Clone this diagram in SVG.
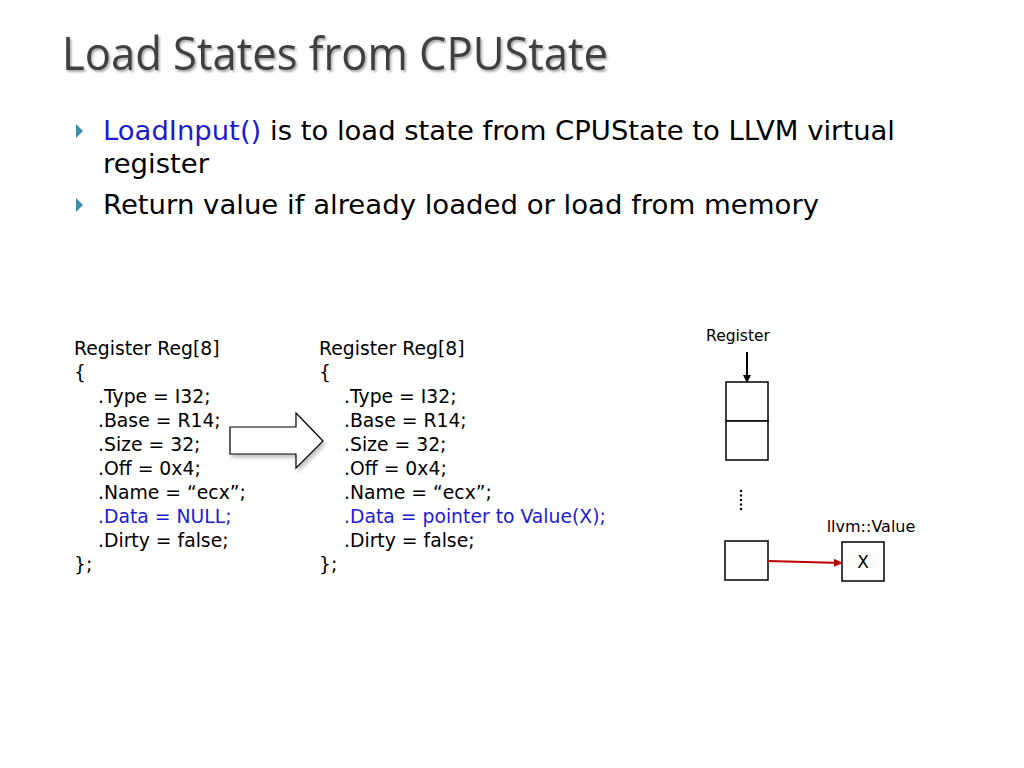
<svg xmlns="http://www.w3.org/2000/svg" width="1024" height="768" viewBox="0 0 1024 768">
<defs>
<style>
.t{font-family:"DejaVu Sans","Liberation Sans",sans-serif;fill:#000}
.code{font-family:"DejaVu Sans","Liberation Sans",sans-serif;font-size:18.8px;fill:#000}
.blue{fill:#1c1ccf}
.box{fill:#fff;stroke:#000;stroke-width:1.5}
</style>
<filter id="sh" x="-10%" y="-10%" width="130%" height="140%">
<feDropShadow dx="1.5" dy="2" stdDeviation="1.2" flood-color="#000" flood-opacity="0.35"/>
</filter>
<filter id="ash" x="-20%" y="-20%" width="150%" height="150%">
<feDropShadow dx="2" dy="3" stdDeviation="2" flood-color="#000" flood-opacity="0.25"/>
</filter>
<marker id="ab" markerWidth="8" markerHeight="8" refX="7" refY="4" orient="auto" markerUnits="userSpaceOnUse">
<path d="M0,0 L8,4 L0,8 z" fill="#000"/>
</marker>
<marker id="ar" markerWidth="9" markerHeight="8" refX="8" refY="4" orient="auto" markerUnits="userSpaceOnUse">
<path d="M0,0 L9,4 L0,8 z" fill="#c00000"/>
</marker>
</defs>
<rect width="1024" height="768" fill="#fff"/>

<g id="title">
<text x="62" y="70" font-family="'Open Sans','Liberation Sans',sans-serif" font-size="45" fill="#404040" filter="url(#sh)" textLength="546" lengthAdjust="spacingAndGlyphs">Load States from CPUState</text>
</g>

<g id="bullets">
<path d="M76,124 L83,131 L76,138 z" fill="#3d8fb0"/>
<path d="M76,198 L83,205 L76,212 z" fill="#3d8fb0"/>
<text x="103" y="140" class="t" font-size="27" textLength="792" lengthAdjust="spacingAndGlyphs"><tspan class="blue">LoadInput()</tspan> is to load state from CPUState to LLVM virtual</text>
<text x="103" y="173" class="t" font-size="27" textLength="106" lengthAdjust="spacingAndGlyphs">register</text>
<text x="103" y="214" class="t" font-size="27" textLength="716" lengthAdjust="spacingAndGlyphs">Return value if already loaded or load from memory</text>
</g>

<g id="reg-before">
<text class="code" x="74" y="355">Register Reg[8]</text>
<text class="code" x="74" y="379">{</text>
<text class="code" x="98" y="403">.Type = I32;</text>
<text class="code" x="98" y="427">.Base = R14;</text>
<text class="code" x="98" y="451">.Size = 32;</text>
<text class="code" x="98" y="475">.Off = 0x4;</text>
<text class="code" x="98" y="499">.Name = “ecx”;</text>
<text class="code blue" x="98" y="523">.Data = NULL;</text>
<text class="code" x="98" y="547">.Dirty = false;</text>
<text class="code" x="74" y="571">};</text>
</g>

<g id="transform-arrow">
<path d="M230,427 L296,427 L296,413 L323,441 L296,468 L296,454 L230,454 z" fill="#fff" stroke="#000" stroke-width="1.2" filter="url(#ash)"/>
</g>

<g id="reg-after">
<text class="code" x="319" y="355">Register Reg[8]</text>
<text class="code" x="319" y="379">{</text>
<text class="code" x="344" y="403">.Type = I32;</text>
<text class="code" x="344" y="427">.Base = R14;</text>
<text class="code" x="344" y="451">.Size = 32;</text>
<text class="code" x="344" y="475">.Off = 0x4;</text>
<text class="code" x="344" y="499">.Name = “ecx”;</text>
<text class="code blue" x="344" y="523">.Data = pointer to Value(X);</text>
<text class="code" x="344" y="547">.Dirty = false;</text>
<text class="code" x="319" y="571">};</text>
</g>

<g id="register-array">
<text class="t" x="738" y="341" font-size="15.5" text-anchor="middle">Register</text>
<rect class="box" x="726" y="382" width="42" height="39"/>
<rect class="box" x="726" y="421" width="42" height="39"/>
<line x1="741" y1="490" x2="741" y2="512" stroke="#000" stroke-width="2.2" stroke-dasharray="2,2.5"/>
<rect class="box" x="725" y="541" width="43" height="39"/>
</g>

<g id="llvm-value">
<text class="t" x="871" y="532" font-size="16" text-anchor="middle">llvm::Value</text>
<rect class="box" x="842" y="542" width="42" height="39"/>
<text class="t" x="863" y="568" font-size="17" text-anchor="middle">X</text>
</g>

<g id="connectors">
<line x1="747" y1="352" x2="747" y2="382" stroke="#000" stroke-width="2" marker-end="url(#ab)"/>
<line x1="768" y1="561" x2="842" y2="563" stroke="#c00000" stroke-width="2" marker-end="url(#ar)"/>
</g>
</svg>
